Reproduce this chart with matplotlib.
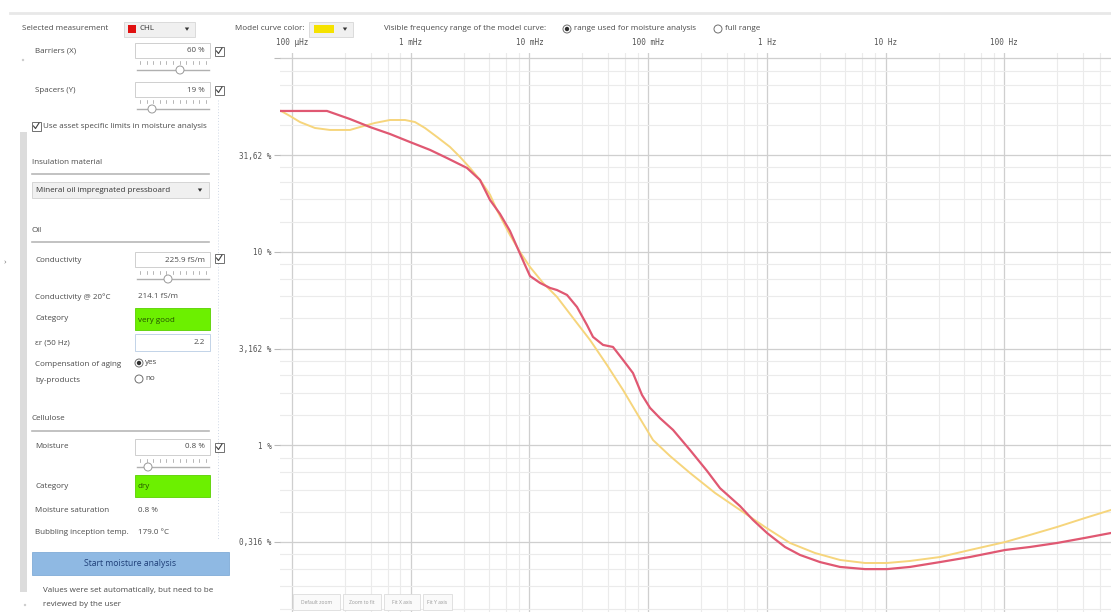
import matplotlib
matplotlib.use("Agg")
import matplotlib.pyplot as plt
from matplotlib.patches import Rectangle, Circle, Polygon
from matplotlib.ticker import FixedLocator, FixedFormatter, NullFormatter
import numpy as np

# ---------------- data ----------------
freq_meas = [8.08e-5, 1.168e-4, 1.972e-4, 3.08e-4, 4.54e-4, 6.69e-4, 9.86e-4, 1.454e-3,
             2.021e-3, 2.98e-3, 3.835e-3, 4.66e-3, 5.65e-3, 6.86e-3, 7.86e-3, 9.18e-3,
             1.012e-2, 1.229e-2, 1.492e-2, 1.708e-2, 2.074e-2, 2.518e-2, 3.056e-2, 3.434e-2,
             4.17e-2, 5.06e-2, 6.15e-2, 7.46e-2, 8.88e-2, 0.1038, 0.126, 0.1622, 0.2254,
             0.3134, 0.4035, 0.5944, 0.765, 1.004, 1.423, 1.905, 2.807, 4.138, 6.72, 10.3,
             16.08, 28.79, 51.5, 101.6, 165.0, 278.5, 479.4, 793.9]
tand_meas = [53.4, 53.4, 53.4, 48.5, 44.1, 40.6, 36.9, 33.6,
             30.5, 27.1, 23.5, 18.5, 15.7, 12.8, 10.6, 8.54,
             7.49, 6.90, 6.50, 6.34, 5.98, 5.18, 4.18, 3.63,
             3.30, 3.22, 2.76, 2.36, 1.82, 1.56, 1.38, 1.20, 0.945,
             0.737, 0.60, 0.485, 0.411, 0.352, 0.298, 0.271, 0.249, 0.235, 0.229, 0.229,
             0.235, 0.249, 0.2645, 0.2875, 0.298, 0.3125, 0.332, 0.352]

freq_model = [8.08e-5, 9.62e-5, 1.168e-4, 1.562e-4, 2.09e-4, 3.08e-4, 3.74e-4, 5.0e-4,
              6.69e-4, 8.95e-4, 1.087e-3, 1.319e-3, 1.665e-3, 2.143e-3, 2.602e-3, 3.16e-3,
              3.835e-3, 4.66e-3, 5.33e-3, 6.86e-3, 8.33e-3, 1.012e-2, 1.302e-2, 1.708e-2,
              2.33e-2, 3.24e-2, 4.50e-2, 6.15e-2, 8.22e-2, 0.110, 0.1529, 0.2254, 0.366,
              0.5944, 0.9656, 1.569, 2.547, 4.138, 6.72, 10.3, 16.08, 28.79, 51.5, 101.6,
              165.0, 278.5, 479.4, 793.9]
tand_model = [53.4, 50.3, 46.8, 43.6, 42.6, 42.6, 44.1, 46.3,
              47.96, 47.96, 46.8, 43.6, 39.2, 34.8, 30.9, 27.1,
              23.5, 19.7, 16.4, 12.2, 9.97, 8.34, 6.90, 5.84,
              4.55, 3.50, 2.60, 1.93, 1.43, 1.064, 0.880, 0.719, 0.567,
              0.463, 0.378, 0.3125, 0.2774, 0.2553, 0.2463, 0.2463, 0.2523, 0.2645, 0.2875, 0.316,
              0.344, 0.378, 0.4207, 0.463]

x_major = [1e-4, 1e-3, 1e-2, 1e-1, 1, 10, 100, 1000]
x_labels = ["100 µHz", "1 mHz", "10 mHz", "100 mHz", "1 Hz", "10 Hz", "100 Hz", "1 kHz"]
y_major = [0.1, 0.3162, 1, 3.162, 10, 31.62, 100]
y_labels = ["", "0,316 %", "1 %", "3,162 %", "10 %", "31,62 %", ""]

# ---------------- figure ----------------
W, H = 1111, 612
fig = plt.figure(figsize=(W / 100, H / 100), dpi=100)
fig.patch.set_facecolor("white")

# chart axes (pixel box: left 280, right 1140, top 53, bottom 612)
ax = fig.add_axes([280 / W, 0, 860 / W, (612 - 53) / H])
ax.set_xscale("log")
ax.set_yscale("log")
ax.set_xlim(10 ** -4.1011, 10 ** 3.1440)
ax.set_ylim(10 ** -0.8618, 10 ** 2.0271)
for s in ax.spines.values():
    s.set_visible(False)

xminor = [d * k for d in x_major for k in (2.8, 4.6, 6.4, 8.2)]
yminor = []
for a, b in zip(y_major[:-1], y_major[1:]):
    yminor += [a + (b - a) * k / 5 for k in range(1, 5)]

ax.xaxis.set_major_locator(FixedLocator(x_major))
ax.xaxis.set_major_formatter(FixedFormatter(x_labels))
ax.xaxis.set_minor_locator(FixedLocator(xminor))
ax.xaxis.set_minor_formatter(NullFormatter())
ax.yaxis.set_major_locator(FixedLocator(y_major))
ax.yaxis.set_major_formatter(FixedFormatter(y_labels))
ax.yaxis.set_minor_locator(FixedLocator(yminor))
ax.yaxis.set_minor_formatter(NullFormatter())
ax.xaxis.tick_top()
ax.tick_params(axis="x", which="both", length=0, pad=4, labelsize=5.5, labelcolor="#555")
ax.tick_params(axis="y", which="major", length=4, color="#bbbbbb", pad=2, labelsize=5.5, labelcolor="#555")
ax.tick_params(axis="y", which="minor", length=0)
for lab in ax.get_xticklabels() + ax.get_yticklabels():
    lab.set_family("DejaVu Sans Mono")
ax.grid(True, which="major", color="#cfcfcf", lw=0.9)
ax.grid(True, which="minor", color="#ebebeb", lw=0.8)
ax.set_axisbelow(True)

ax.plot(freq_model, tand_model, color="#f6d57c", lw=1.4, zorder=3, solid_joinstyle="round")
ax.plot(freq_meas, tand_meas, color="#e05872", lw=1.6, zorder=4, solid_joinstyle="round")

# ---------------- UI overlay ----------------
ui = fig.add_axes([0, 0, 1, 1], zorder=10)
ui.set_xlim(0, W)
ui.set_ylim(H, 0)
ui.axis("off")
ui.patch.set_alpha(0)

FONT = "Open Sans"
TXT = "#4a4a4a"


def T(x, y, s, size=5.8, color=TXT, ha="left", va="center", **kw):
    ui.text(x, y, s, fontsize=size, color=color, ha=ha, va=va, family=FONT, **kw)


def box(x0, y0, x1, y1, fc="white", ec="#c8c8c8", lw=0.6, z=2):
    ui.add_patch(Rectangle((x0, y0), x1 - x0, y1 - y0, fc=fc, ec=ec, lw=lw, zorder=z))


def checkbox(cx, cy):
    box(cx - 4.5, cy - 4.5, cx + 4.5, cy + 4.5, fc="white", ec="#707070", lw=0.7)
    ui.plot([cx - 2.5, cx - 0.5, cx + 3], [cy, cy + 2.5, cy - 3], color="#404040", lw=0.8, zorder=3)


def radio(cx, cy, filled):
    ui.add_patch(Circle((cx, cy), 4, fc="white", ec="#707070", lw=0.7, zorder=3))
    if filled:
        ui.add_patch(Circle((cx, cy), 2.2, fc="#303030", ec="none", zorder=4))


def slider(x0, x1, ty, ly, kx, n=11):
    for xx in np.linspace(x0 + 3, x1 - 3, n):
        ui.plot([xx, xx], [ty - 1.5, ty + 1.5], color="#9a9a9a", lw=0.5, zorder=2)
    ui.plot([x0, x1], [ly, ly], color="#b0b0b0", lw=1.0, zorder=2)
    ui.add_patch(Circle((kx, ly), 4, fc="white", ec="#9a9a9a", lw=0.7, zorder=3))


def dropdown_arrow(x, y):
    ui.add_patch(Polygon([[x - 2.2, y - 1.5], [x + 2.2, y - 1.5], [x, y + 1.8]], closed=True,
                         fc="#333", ec="none", zorder=4))


# top separator
ui.plot([10, W], [13, 13], color="#e8e8e8", lw=2)

# top bar
T(22, 29, "Selected measurement")
box(124, 22, 195, 37, fc="#f0f0f0", ec="#d6d6d6")
box(128, 25, 136, 33, fc="#e01010", ec="none", z=3)
T(139, 29, "CHL", color="#333")
dropdown_arrow(187, 29)

T(235, 29, "Model curve color:")
box(309, 22, 353, 37, fc="#f0f0f0", ec="#d6d6d6")
box(314, 25, 334, 33, fc="#f5e200", ec="none", z=3)
dropdown_arrow(345, 29)

T(384, 29, "Visible frequency range of the model curve:")
radio(567, 29, True)
T(574, 29, "range used for moisture analysis")
radio(718, 29, False)
T(725, 29, "full range")

# left scroll strip and dotted separator
box(20, 132, 27, 592, fc="#dcdcdc", ec="none")
ui.plot([218, 218], [100, 540], color="#cfd8e6", lw=0.7, ls=(0, (1, 2)))
T(4, 263, "›", size=6, color="#777")
ui.add_patch(Circle((23, 60), 1.2, fc="#cccccc", ec="none"))
ui.add_patch(Circle((25, 605), 1.2, fc="#cccccc", ec="none"))

# Barriers / Spacers
T(35, 51, "Barriers (X)")
box(135, 43, 210, 58)
T(205, 51, "60 %", ha="right")
checkbox(219, 51)
slider(137, 209, 62, 70, 180)

T(35, 90, "Spacers (Y)")
box(135, 82, 210, 97)
T(205, 90, "19 %", ha="right")
checkbox(219, 90)
slider(137, 209, 101, 109, 152)

checkbox(36, 126)
T(43, 126, "Use asset specific limits in moisture analysis")

# Insulation material
T(32, 163, "Insulation material")
ui.plot([32, 209], [174, 174], color="#b8b8b8", lw=1.2)
box(32, 182, 209, 198, fc="#f0f0f0", ec="#d0d0d0")
T(36, 190, "Mineral oil impregnated pressboard", color="#333")
dropdown_arrow(200, 190)

# Oil
T(32, 230, "Oil")
ui.plot([32, 209], [242, 242], color="#b8b8b8", lw=1.2)
T(35, 260, "Conductivity")
box(135, 252, 210, 267)
T(205, 260, "225.9 fS/m", ha="right")
checkbox(219, 258)
slider(137, 209, 272, 279, 168)
T(35, 297, "Conductivity @ 20°C")
T(138, 297, "214.1 fS/m")
T(35, 319, "Category")
box(135, 308, 210, 330, fc="#6cf000", ec="#5ad000")
T(138, 320, "very good", color="#245000")
T(35, 343, "εr (50 Hz)")
box(135, 334, 210, 351, ec="#b8cce4")
T(205, 343, "2.2", ha="right")
T(35, 365, "Compensation of aging")
T(35, 380, "by-products")
radio(139, 363, True)
T(145, 363, "yes")
radio(139, 379, False)
T(145, 379, "no")

# Cellulose
T(32, 419, "Cellulose")
ui.plot([32, 209], [431, 431], color="#b8b8b8", lw=1.2)
T(35, 447, "Moisture")
box(135, 439, 210, 455)
T(205, 447, "0.8 %", ha="right")
checkbox(219, 447)
slider(137, 209, 460, 467, 148)
T(35, 487, "Category")
box(135, 475, 210, 497, fc="#6cf000", ec="#5ad000")
T(138, 487, "dry", color="#245000")
T(35, 511, "Moisture saturation")
T(138, 511, "0.8 %")
T(35, 533, "Bubbling inception temp.")
T(138, 533, "179.0 °C")

# button
box(32, 552, 229, 575, fc="#8fb9e3", ec="#80acd8")
T(130.5, 564, "Start moisture analysis", color="#1f3f78", ha="center", size=6.2)

T(43, 591, "Values were set automatically, but need to be")
T(43, 605, "reviewed by the user")

# bottom chart buttons
for (x0, x1, lab) in [(293, 340, "Default zoom"), (343, 381, "Zoom to fit"),
                      (384, 420, "Fit X axis"), (423, 452, "Fit Y axis")]:
    box(x0, 594, x1, 610, fc="#fafafa", ec="#dcdcdc", lw=0.6, z=5)
    ui.text((x0 + x1) / 2, 602, lab, fontsize=3.6, color="#999", ha="center", va="center",
            family=FONT, zorder=6)

fig.savefig("out.png", dpi=100)
